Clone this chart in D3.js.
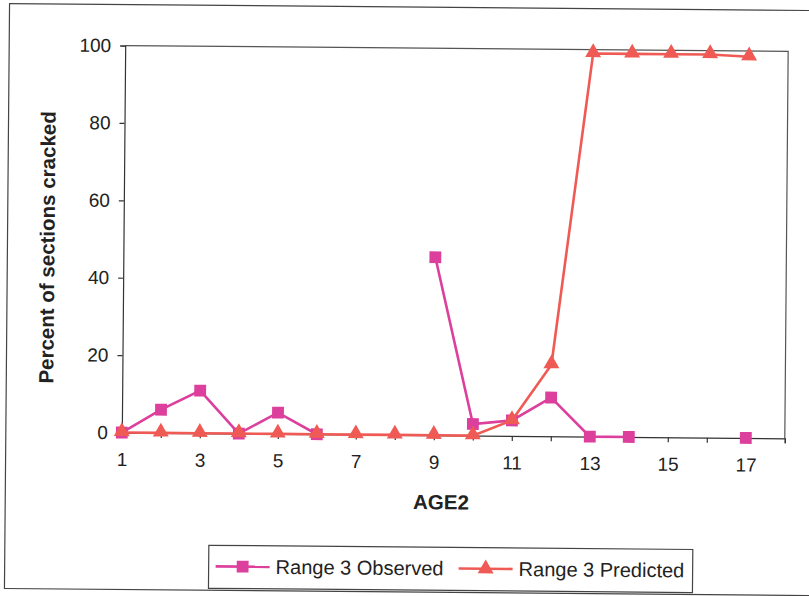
<!DOCTYPE html>
<meta charset="utf-8">
<style>
body { margin: 0; background: #fff; }
text { font-family: Arial, "Liberation Sans", sans-serif; fill: #222; }
.tick text { font-size: 19px; }
.axis-title { font-size: 20.5px; font-weight: bold; }
.legend text { font-size: 20px; }
</style>
<script src="https://cdn.jsdelivr.net/npm/d3@7"></script>
<body>
<script>

var width = 809,
    height = 596;

// chart values
var ages = [1, 2, 3, 4, 5, 6, 7, 8, 9, 10, 11, 12, 13, 14, 15, 16, 17];
var observed = [0, 6, 11, 0, 5.5, 0, null, null, 46, 3, 4, 10, 0, 0, null, null, 0];
var predicted = [0, 0, 0, 0, 0, 0, 0, 0, 0, 0, 4, 18.5, 99, 99, 99, 99, 98.5];
var xTickLabels = [1, 3, 5, 7, 9, 11, 13, 15, 17];
var yTickLabels = [0, 20, 40, 60, 80, 100];
var seriesNames = ["Range 3 Observed", "Range 3 Predicted"];

var obsColor = "#dc3f9c",
    predColor = "#ef5a55";

var margin = {left: 123, top: 48, right: 23, bottom: 161};

var svg = d3.select("body")
              .append("svg")
              .attr("width", width)
              .attr("height", height);

// the scan is a little tilted
var root = svg.append("g")
                .attr("transform", "rotate(0.5," + width / 2 + "," + height / 2 + ")");

// outer frame
root.append("rect")
  .attr("x", 7).attr("y", 7)
  .attr("width", 830).attr("height", 585)
  .attr("fill", "none")
  .attr("stroke", "#444")
  .attr("stroke-width", 1.2);

var plotW = width - margin.left - margin.right,
    plotH = height - margin.top - margin.bottom;

var x = d3.scaleLinear().domain([1, 18]).range([0, plotW]);
var y = d3.scaleLinear().domain([0, 100]).range([plotH, 0]);

var g = root.append("g")
              .attr("transform", "translate(" + margin.left + "," + margin.top + ")");

// plot area border (top and right)
g.append("path")
  .attr("d", "M0,0H" + plotW + "V" + plotH)
  .attr("fill", "none")
  .attr("stroke", "#555")
  .attr("stroke-width", 1.2);

var yAxis = g.append("g")
  .call(d3.axisLeft(y).tickValues(yTickLabels).tickSize(5).tickPadding(9));

var xAxis = g.append("g")
  .attr("transform", "translate(0," + plotH + ")")
  .call(d3.axisBottom(x).tickValues(d3.range(1, 19)).tickSize(5).tickPadding(15)
          .tickFormat(function (d) { return xTickLabels.indexOf(d) >= 0 ? d : ""; }));

g.selectAll(".domain, .tick line").attr("stroke", "#333").attr("stroke-width", 1.2);

// axis titles
g.append("text")
  .attr("class", "axis-title")
  .attr("transform", "translate(" + (-69) + "," + (plotH / 2 + 9) + ") rotate(-90)")
  .attr("text-anchor", "middle")
  .text("Percent of sections cracked");

g.append("text")
  .attr("class", "axis-title")
  .attr("x", x(9.2))
  .attr("y", plotH + 74)
  .attr("text-anchor", "middle")
  .text("AGE2");

var obsData = ages.map(function (a, i) { return {x: a, y: observed[i]}; });
var predData = ages.map(function (a, i) { return {x: a, y: predicted[i]}; });

var line = d3.line()
              .defined(function (d) { return d.y !== null; })
              .x(function (d) { return x(d.x); })
              .y(function (d) { return y(d.y); });

var square = d3.symbol().type(d3.symbolSquare).size(140);
var triangle = d3.symbol().type(d3.symbolTriangle).size(110);

g.append("path")
  .datum(obsData)
  .attr("d", line)
  .attr("fill", "none")
  .attr("stroke", obsColor)
  .attr("stroke-width", 2.6);

g.selectAll(".obs")
  .data(obsData.filter(function (d) { return d.y !== null; }))
  .enter()
    .append("path")
      .attr("class", "obs")
      .attr("transform", function (d) { return "translate(" + x(d.x) + "," + y(d.y) + ")"; })
      .attr("d", square)
      .attr("fill", obsColor);

g.append("path")
  .datum(predData)
  .attr("d", line)
  .attr("fill", "none")
  .attr("stroke", predColor)
  .attr("stroke-width", 2.6);

g.selectAll(".pred")
  .data(predData)
  .enter()
    .append("path")
      .attr("class", "pred")
      .attr("transform", function (d) { return "translate(" + x(d.x) + "," + (y(d.y) - 1) + ")"; })
      .attr("d", triangle)
      .attr("fill", predColor);

// legend
var legend = root.append("g")
                .attr("class", "legend")
                .attr("transform", "translate(211,547)");

legend.append("rect")
  .attr("width", 484)
  .attr("height", 43)
  .attr("fill", "none")
  .attr("stroke", "#444")
  .attr("stroke-width", 1.2);

var items = [
  {name: seriesNames[0], color: obsColor, sym: square, x0: 7},
  {name: seriesNames[1], color: predColor, sym: triangle, x0: 250}
];

var item = legend.selectAll(".item")
              .data(items)
              .enter()
                .append("g")
                  .attr("transform", function (d) { return "translate(" + d.x0 + ",21)"; });

item.append("line")
  .attr("x1", 0).attr("x2", 54)
  .attr("stroke", function (d) { return d.color; })
  .attr("stroke-width", 2.6);

item.append("path")
  .attr("transform", "translate(27,0)")
  .attr("d", function (d) { return d.sym(); })
  .attr("fill", function (d) { return d.color; });

item.append("text")
  .attr("x", 60)
  .attr("y", 7)
  .text(function (d) { return d.name; });

</script>
</body>
